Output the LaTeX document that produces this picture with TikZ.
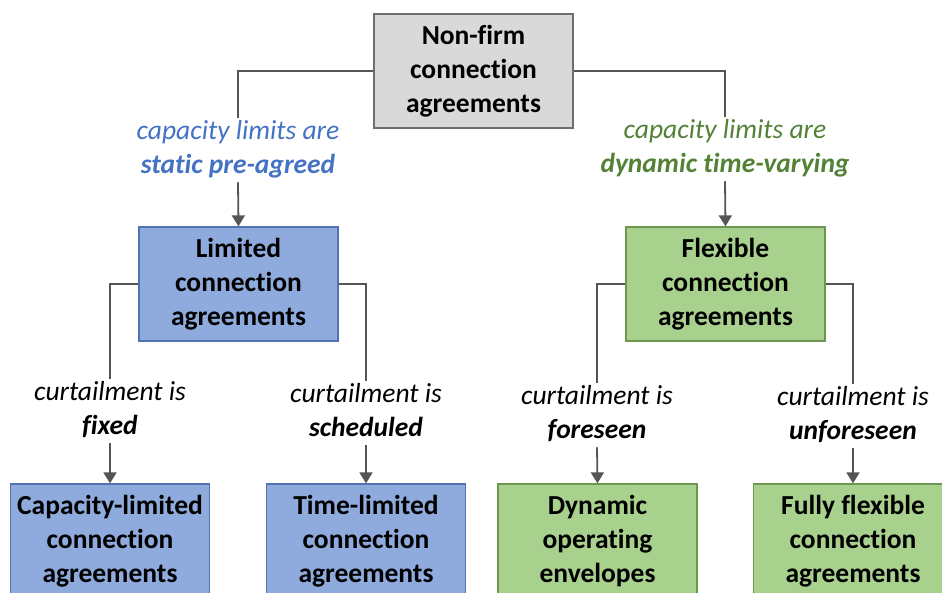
\documentclass[tikz,border=0pt]{standalone}
\usepackage{fontspec}
\setmainfont{Carlito}[Ligatures=NoCommon]
\usetikzlibrary{arrows.meta}
\definecolor{boxgray}{HTML}{D9D9D9}
\definecolor{edgegray}{HTML}{6E6E6E}
\definecolor{boxblue}{HTML}{8FAADC}
\definecolor{edgeblue}{HTML}{5272B4}
\definecolor{boxgreen}{HTML}{A9D18E}
\definecolor{edgegreen}{HTML}{6E9650}
\definecolor{textblue}{HTML}{4472C4}
\definecolor{textgreen}{HTML}{538135}
\definecolor{wire}{HTML}{555555}
\tikzset{
  card/.style={draw, line width=1.3pt, minimum width=199pt, minimum height=114pt,
    align=center, inner sep=0pt, font=\bfseries\fontsize{27.5}{34}\selectfont},
  graycard/.style={card, fill=boxgray, draw=edgegray},
  bluecard/.style={card, fill=boxblue, draw=edgeblue},
  greencard/.style={card, fill=boxgreen, draw=edgegreen},
  tag/.style={align=center, inner xsep=0pt, inner ysep=2pt, text depth=7pt,
    font=\itshape\fontsize{27.5}{34}\selectfont},
  wireline/.style={draw=wire, line width=1.8pt},
  wirearrow/.style={wireline, -{Triangle[width=13pt,length=11pt]}}
}
\begin{document}
\begin{tikzpicture}[x=1pt,y=-1pt]
  \useasboundingbox (0,0) rectangle (942,592);
  \clip (0,0) rectangle (942,592);

  % top level
  \node[graycard] (root) at (473.5,71) {Non-firm\\connection\\agreements};

  % second level
  \node[tag, text=textblue] (staticlbl) at (238,150)
    {capacity limits are\\{\bfseries static pre-agreed}};
  \node[tag, text=textgreen] (dynlbl) at (725,149)
    {capacity limits are\\{\bfseries dynamic time-varying}};
  \node[bluecard] (limited) at (238.5,284) {Limited\\connection\\agreements};
  \node[greencard] (flexible) at (725.5,284) {Flexible\\connection\\agreements};

  % third level labels
  \node[tag] (fixedlbl) at (110,411) {curtailment is\\{\bfseries fixed}};
  \node[tag] (schedlbl) at (366,413) {curtailment is\\{\bfseries scheduled}};
  \node[tag] (foreslbl) at (597,415) {curtailment is\\{\bfseries foreseen}};
  \node[tag] (unforlbl) at (853,416) {curtailment is\\{\bfseries unforeseen}};

  % leaves
  \node[bluecard] (caplim) at (110,541) {Capacity-limited\\connection\\agreements};
  \node[bluecard] (timelim) at (366,541) {Time-limited\\connection\\agreements};
  \node[greencard] (doe) at (597.5,541) {Dynamic\\operating\\envelopes};
  \node[greencard] (fullflex) at (853,541) {Fully flexible\\connection\\agreements};

  % connectors
  \draw[wireline] (root.west) -| (staticlbl.north);
  \draw[wireline] (root.east) -| (dynlbl.north);
  \draw[wirearrow] (staticlbl.south) -- (limited.north);
  \draw[wirearrow] (dynlbl.south) -- (flexible.north);

  \draw[wireline] (limited.west) -| (fixedlbl.north);
  \draw[wireline] (limited.east) -| (schedlbl.north);
  \draw[wireline] (flexible.west) -| (foreslbl.north);
  \draw[wireline] (flexible.east) -| (unforlbl.north);

  \draw[wirearrow] (fixedlbl.south) -- (caplim.north);
  \draw[wirearrow] (schedlbl.south) -- (timelim.north);
  \draw[wirearrow] (foreslbl.south) -- (doe.north);
  \draw[wirearrow] (unforlbl.south) -- (fullflex.north);
\end{tikzpicture}
\end{document}
